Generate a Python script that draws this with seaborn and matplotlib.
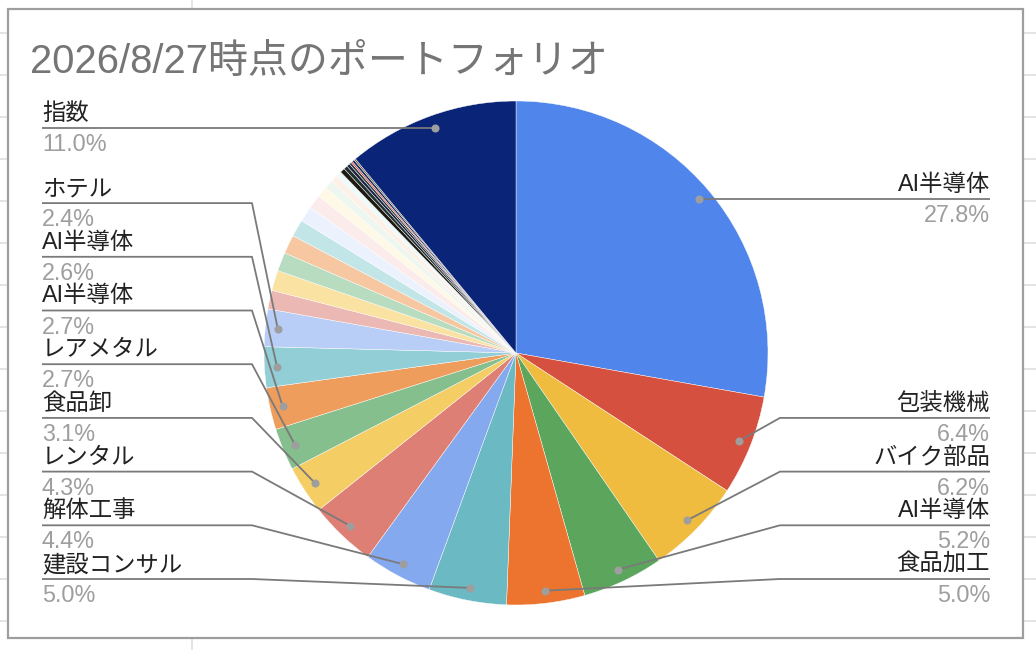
import matplotlib
matplotlib.use('Agg')
import matplotlib.pyplot as plt
import matplotlib.patches as mpatches
import numpy as np
import seaborn as sns

title = '2026/8/27時点のポートフォリオ'

# slices, clockwise from 12 o'clock ('' = no label drawn)
names = ['AI半導体', '包装機械', 'バイク部品', 'AI半導体', '食品加工', '建設コンサル',
         '解体工事', 'レンタル', '食品卸', 'レアメタル', 'AI半導体', 'AI半導体', 'ホテル',
         '', '', '', '', '', '', '', '', '', '', '',
         '', '', '', '', '', '', '',
         '指数']
values = [27.8, 6.4, 6.2, 5.2, 5.0, 5.0,
          4.4, 4.3, 3.1, 2.7, 2.7, 2.6, 2.4,
          1.2, 1.3, 1.2, 1.2, 1.1, 1.0, 0.9, 0.7, 0.55, 0.45, 0.35,
          0.3, 0.25, 0.2, 0.15, 0.1, 0.15, 0.1,
          11.0]
colors = ['#5086ec', '#d6503f', '#f0bc40', '#5ba55c', '#ec742e', '#6bb9c3',
          '#85a9ef', '#de7f76', '#f4cd64', '#85bf8d', '#ef9d5d', '#92ced6', '#b9cef6',
          '#ecb8b3', '#f9e2a2', '#b7dcc0', '#f6c7a1', '#c2e5e8', '#ecf2fd', '#fbeceb',
          '#fef8e6', '#edf6ef', '#fdf0e6', '#eef9fa',
          '#1e1a12', '#243030', '#1b2540', '#2d3b3b', '#e04545', '#172a5a', '#6b6547',
          '#0a2478']

sns.set_theme(style='white')
plt.rcParams['font.family'] = ['Liberation Sans', 'Noto Sans CJK JP', 'DejaVu Sans']

W, H = 1036, 650
cx, cy, R = 516, 353, 252
fig = plt.figure(figsize=(W / 100, H / 100), dpi=100)

# spreadsheet behind the chart
bg = fig.add_axes([0, 0, 1, 1], zorder=0)
bg.set_xlim(0, W)
bg.set_ylim(H, 0)
bg.axis('off')
for y in np.arange(33, H, 42):
    bg.axhline(y, color='#e2e2e2', lw=1.3, zorder=1)
bg.axvline(192, color='#e2e2e2', lw=1.3, zorder=1)
bg.add_patch(mpatches.Rectangle((8, 9), 1015, 629, facecolor='white',
                                edgecolor='#9e9e9e', lw=1.6, zorder=5))

# pie
ax = fig.add_axes([(cx - R) / W, (H - cy - R) / H, 2 * R / W, 2 * R / H], zorder=1)
wedges, _ = ax.pie(values, colors=colors, startangle=90, counterclock=False,
                   wedgeprops=dict(linewidth=0.3, edgecolor='white'))
ax.set_xlim(-1, 1)
ax.set_ylim(-1, 1)
ax.set_aspect('equal')

# labels + leader lines
ov = fig.add_axes([0, 0, 1, 1], zorder=2)
ov.set_xlim(0, W)
ov.set_ylim(H, 0)
ov.axis('off')
ov.patch.set_alpha(0)

total = sum(values)
items = []
for w, name, v in zip(wedges, names, values):
    if not name:
        continue
    mid = np.deg2rad((w.theta1 + w.theta2) / 2)
    disp = ax.transData.transform((0.95 * np.cos(mid), 0.95 * np.sin(mid)))
    dx, dy = ov.transData.inverted().transform(disp)
    side = 'right' if np.cos(mid) > 0 else 'left'
    items.append(dict(name=name, pct=v / total * 100, dx=dx, dy=dy, side=side))

gap = 53.7
bottom = 579
for side in ('left', 'right'):
    group = sorted([it for it in items if it['side'] == side], key=lambda it: -it['dy'])
    limit = bottom
    for it in group:
        it['ly'] = min(it['dy'], limit)
        limit = it['ly'] - gap

for it in items:
    ly = it['ly']
    if it['side'] == 'left':
        tx, ha, bend = 42, 'left', 252
    else:
        tx, ha, bend = 990, 'right', 780
    if ly == it['dy']:
        xs, ys = [tx, it['dx']], [ly, ly]
    else:
        xs, ys = [tx, bend, it['dx']], [ly, ly, it['dy']]
    ov.plot(xs, ys, color='#7a7a7a', lw=1.3, solid_capstyle='butt')
    ov.plot(it['dx'], it['dy'], 'o', ms=5.8, color='#9e9e9e', mew=0)
    ov.text(tx, ly - 8, it['name'], ha=ha, va='baseline', fontsize=16.8, color='#222222')
    ov.text(tx, ly + 23, f"{it['pct']:.1f}%", ha=ha, va='baseline', fontsize=16.8,
            color='#9e9e9e')

ov.text(30, 73, title, ha='left', va='baseline', fontsize=28.8, color='#757575')

fig.savefig('out.png', dpi=100)
